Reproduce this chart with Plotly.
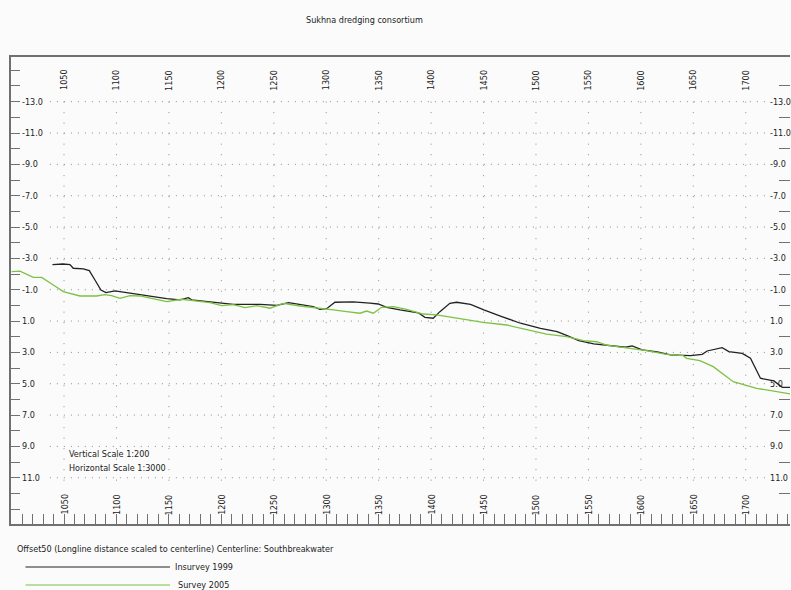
import plotly.graph_objects as go

# ---------------- data ----------------
title_text = "Sukhna dredging consortium"
footer_text = "Offset50 (Longline distance scaled to centerline) Centerline: Southbreakwater"
scale_notes = ["Vertical Scale 1:200", "Horizontal Scale 1:3000"]
series_names = ["Insurvey 1999", "Survey 2005"]

x_1999 = [1039, 1049, 1055.7, 1058.8, 1068.4, 1074.1, 1079.5, 1085.2, 1090, 1098.6,
          1109.7, 1125.6, 1147.9, 1160.6, 1168.5, 1171.7, 1179.6, 1198.7, 1211.4, 1237.2,
          1253, 1264.1, 1275.3, 1287.6, 1294, 1300.4, 1308.3, 1325.8, 1341.6, 1349.6,
          1357.6, 1370.3, 1387.8, 1394.1, 1402, 1408.4, 1417.9, 1424.3, 1437.6, 1450.3,
          1466.1, 1485.2, 1504.3, 1520.2, 1529.7, 1540.8, 1555.1, 1574.2, 1585.4, 1591.7,
          1601.3, 1615.6, 1628.3, 1647.3, 1658.5, 1663.2, 1677.5, 1683.9, 1696.6, 1704.5,
          1714, 1726.8, 1734.8, 1743]
y_1999 = [-2.6, -2.64, -2.6, -2.37, -2.33, -2.22, -1.62, -0.98, -0.81, -0.92,
          -0.81, -0.64, -0.43, -0.35, -0.49, -0.35, -0.30, -0.13, -0.07, -0.07,
          0.0, -0.17, -0.05, 0.08, 0.25, 0.21, -0.2, -0.22, -0.15, -0.09,
          0.12, 0.29, 0.47, 0.76, 0.82, 0.40, -0.13, -0.2, -0.07, 0.29,
          0.68, 1.14, 1.46, 1.68, 1.93, 2.25, 2.46, 2.59, 2.67, 2.59,
          2.84, 2.97, 3.16, 3.21, 3.12, 2.91, 2.70, 2.95, 3.06, 3.37,
          4.65, 4.82, 5.23, 5.23]

x_2005 = [1000, 1008, 1020.7, 1028.7, 1039.8, 1049.3, 1065.2, 1081.1, 1089, 1095.4,
          1103.4, 1112.9, 1122.4, 1132, 1147.9, 1162.2, 1176.4, 1189.2, 1200.3, 1211.4,
          1222.5, 1233.7, 1246.4, 1259.1, 1275, 1290.9, 1306.7, 1319.5, 1332.2, 1338.5,
          1344.9, 1352.8, 1364, 1376.6, 1392.5, 1405.2, 1430.6, 1449.7, 1472, 1491.1,
          1510.1, 1529.2, 1545, 1557.8, 1567.3, 1589.6, 1605.5, 1624.5, 1640.4, 1643.6,
          1656.3, 1669, 1688.1, 1710.4, 1743]
y_2005 = [-2.15, -2.18, -1.79, -1.79, -1.30, -0.88, -0.60, -0.60, -0.68, -0.62,
          -0.45, -0.62, -0.60, -0.45, -0.24, -0.39, -0.28, -0.17, 0.02, -0.05,
          0.14, 0.02, 0.18, -0.13, 0.04, 0.15, 0.29, 0.40, 0.50, 0.36,
          0.50, 0.12, 0.08, 0.25, 0.55, 0.61, 0.89, 1.08, 1.25, 1.57,
          1.84, 2.0, 2.25, 2.32, 2.53, 2.74, 2.89, 3.12, 3.21, 3.38,
          3.53, 3.91, 4.87, 5.29, 5.65]

x_label_ticks = list(range(1050, 1701, 50))
y_label_ticks = list(range(-13, 12, 2))
y_right_minor = list(range(-14, 14, 2))

# ---------------- style ----------------
W, H = 791, 590
ML, MR, MT, MB = 11, 1, 57, 66
PW, PH = W - ML - MR, H - MT - MB
FONT = "DejaVu Sans Condensed, DejaVu Sans, sans-serif"
AXIS_COL = "#707070"
GRID_COL = "#8c8c8c"
TXT_COL = "#222222"
line_colors = ["#222222", "#7cc243"]


def px_x(px):
    return (px - ML) / PW


def px_y(py):
    return (H - MB - py) / PH


fig = go.Figure()
fig.add_trace(go.Scatter(x=x_1999, y=y_1999, mode="lines", name=series_names[0],
                         line=dict(color=line_colors[0], width=1.3), showlegend=False))
fig.add_trace(go.Scatter(x=x_2005, y=y_2005, mode="lines", name=series_names[1],
                         line=dict(color=line_colors[1], width=1.3), showlegend=False))
# helper trace so the right-hand axis is drawn
fig.add_trace(go.Scatter(x=[None], y=[None], yaxis="y2", showlegend=False, hoverinfo="skip"))

shapes = []
# dotted grid
for v in y_label_ticks:
    shapes.append(dict(type="line", xref="x", yref="y", x0=1036.5, x1=1723.5, y0=v, y1=v,
                       line=dict(color=GRID_COL, width=1, dash="1px,6px"), layer="below"))
for v in x_label_ticks:
    shapes.append(dict(type="line", xref="x", yref="y", x0=v, x1=v, y0=-13, y1=11.6,
                       line=dict(color=GRID_COL, width=1, dash="1px,9.5px"), layer="below"))
# legend sample lines
for i, py in enumerate([567, 585]):
    shapes.append(dict(type="line", xref="paper", yref="paper", x0=px_x(25.5), x1=px_x(170),
                       y0=px_y(py), y1=px_y(py), line=dict(color=line_colors[i], width=1.2)))

ann = []
base_font = dict(family=FONT, size=9, color=TXT_COL)
for v in x_label_ticks:
    for py in (80, 504.5):
        ann.append(dict(x=v, xref="x", y=px_y(py), yref="paper", text=str(v), textangle=-90,
                        showarrow=False, xanchor="center", yanchor="middle", font=base_font,
                        borderpad=0))
for v in y_label_ticks:
    lab = f"{v:.1f}"
    ann.append(dict(x=px_x(21), xref="paper", y=v, yref="y", text=lab, showarrow=False,
                    xanchor="left", yanchor="middle", font=base_font, borderpad=0))
    ann.append(dict(x=px_x(769), xref="paper", y=v, yref="y", text=lab, showarrow=False,
                    xanchor="left", yanchor="middle", font=base_font, borderpad=0))
ann.append(dict(x=px_x(364.5), xref="paper", y=px_y(20), yref="paper", text=title_text,
                showarrow=False, xanchor="center", yanchor="middle", font=base_font))
for i, t in enumerate(scale_notes):
    ann.append(dict(x=px_x(68), xref="paper", y=px_y(454 + 13.5 * i), yref="paper", text=t,
                    showarrow=False, xanchor="left", yanchor="middle", font=base_font,
                    borderpad=0))
ann.append(dict(x=px_x(16), xref="paper", y=px_y(549), yref="paper", text=footer_text,
                showarrow=False, xanchor="left", yanchor="middle", font=base_font, borderpad=0))
for i, (py, px) in enumerate([(567, 174), (585, 177)]):
    ann.append(dict(x=px_x(px), xref="paper", y=px_y(py), yref="paper", text=series_names[i],
                    showarrow=False, xanchor="left", yanchor="middle", font=base_font,
                    borderpad=0))

fig.update_layout(
    width=W, height=H,
    margin=dict(l=ML, r=MR, t=MT, b=MB, pad=0),
    paper_bgcolor="#fbfbfb", plot_bgcolor="#fbfbfb",
    showlegend=False,
    font=dict(family=FONT, size=9, color=TXT_COL),
    xaxis=dict(range=[999.45, 1742.2], showgrid=False, zeroline=False,
               showline=True, linecolor=AXIS_COL, linewidth=2, mirror=True,
               ticks="inside", tick0=1000, dtick=10, ticklen=10, tickwidth=1,
               tickcolor=AXIS_COL, showticklabels=False),
    yaxis=dict(range=[13.95, -15.85], showgrid=False, zeroline=False,
               showline=True, linecolor=AXIS_COL, linewidth=2, mirror=False,
               ticks="inside", tick0=0, dtick=1, ticklen=9, tickwidth=1,
               tickcolor=AXIS_COL, showticklabels=False),
    yaxis2=dict(range=[13.95, -15.85], overlaying="y", side="right", showgrid=False,
                zeroline=False, showline=False, ticks="inside", tickmode="array",
                tickvals=y_right_minor, ticklen=11, tickwidth=1, tickcolor=AXIS_COL,
                showticklabels=False),
    shapes=shapes,
    annotations=ann,
)

fig.write_html(
    "out.html",
    config={"displayModeBar": False},
    post_script="document.body.style.margin='0px';document.body.style.overflow='hidden';",
)
